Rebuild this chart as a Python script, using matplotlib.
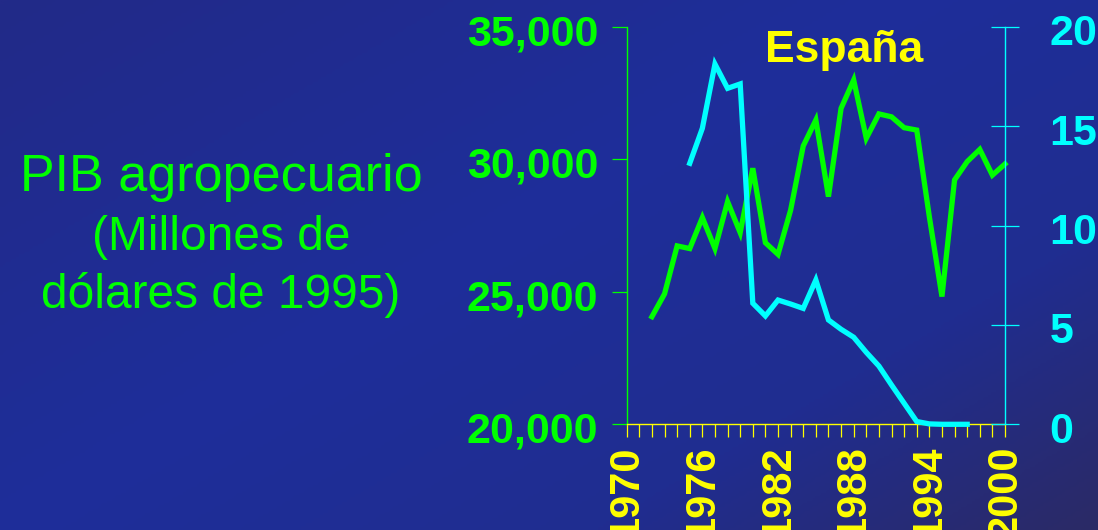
import numpy as np
import matplotlib
matplotlib.use("Agg")
import matplotlib.pyplot as plt
import matplotlib.transforms as mtransforms
from matplotlib.colors import LinearSegmentedColormap

# Agricultural GDP (million 1995 US dollars), left axis
gdp_years = list(range(1972, 2001))
gdp_values = [24060, 24920, 26730, 26630, 27800, 26630, 28400, 27230, 29660,
              26850, 26410, 28080, 30500, 31480, 28590, 31920, 32990, 30790,
              31710, 31600, 31190, 31100, 27830, 24820, 29220, 29910, 30370,
              29400, 29820]

# Second series, right axis
sec_years = list(range(1975, 1998))
sec_values = [13.13, 14.89, 18.12, 16.90, 17.12, 6.09, 5.45, 6.25, 6.05, 5.83,
              7.26, 5.25, 4.78, 4.38, 3.62, 2.93, 1.98, 1.06, 0.14, 0.02, 0.0,
              0.0, 0.0]

year_labels = list(range(1970, 2001, 6))
left_ticks = [20000, 25000, 30000, 35000]
right_ticks = [0, 5, 10, 15, 20]

title = "España"
ylabel_lines = ["PIB agropecuario", "(Millones de", "dólares de 1995)"]

GREEN = "#00ff00"
CYAN = "#00ffff"
YELLOW = "#ffff00"
FONT = "Liberation Sans"

W, H = 1098, 530
fig = plt.figure(figsize=(W / 100, H / 100), dpi=100)

# Diagonal blue background gradient
bg = fig.add_axes([0, 0, 1, 1], zorder=-10)
bg.set_axis_off()
yy, xx = np.mgrid[0:1:200j, 0:1:400j]
t = (xx * 0.55 + yy * 0.45)
cmap = LinearSegmentedColormap.from_list(
    "bg", [(0.0, "#222a88"), (0.45, "#1e2e9a"), (0.75, "#202d90"), (1.0, "#2b2a66")])
bg.imshow(t, cmap=cmap, aspect="auto", extent=[0, 1, 0, 1], origin="upper",
          vmin=0, vmax=1)
bg.set_xlim(0, 1)
bg.set_ylim(0, 1)

x0, x1 = 626.7 / W, 1005 / W
y_top, y_bot = 26.7 / H, 424.3 / H
ax = fig.add_axes([x0, 1 - y_bot, x1 - x0, y_bot - y_top])
ax.set_facecolor("none")
ax2 = ax.twinx()
ax2.set_facecolor("none")

ax.plot(gdp_years, gdp_values, color=GREEN, lw=3.8, solid_joinstyle="miter",
        clip_on=False)
ax2.plot(sec_years, sec_values, color=CYAN, lw=3.8, solid_joinstyle="miter",
         clip_on=False)

ax.set_xlim(1970, 2000)
ax.set_ylim(20000, 35000)
ax2.set_ylim(0, 20)

# Spines
for a in (ax, ax2):
    a.spines["top"].set_visible(False)
ax.spines["right"].set_visible(False)
ax2.spines["left"].set_visible(False)
ax2.spines["bottom"].set_visible(False)
ax.spines["left"].set_color(GREEN)
ax.spines["bottom"].set_color(YELLOW)
ax2.spines["right"].set_color(CYAN)
for s in (ax.spines["left"], ax.spines["bottom"], ax2.spines["right"]):
    s.set_linewidth(1.0)

# X axis ticks
ax.set_xticks(year_labels)
ax.set_xticks(range(1970, 2001), minor=True)
ax.set_xticklabels([str(y) for y in year_labels], rotation=90, va="top",
                   ha="center", color=YELLOW, fontsize=30, fontweight="bold",
                   family=FONT)
ax.tick_params(axis="x", which="both", direction="out", length=9, width=0.9,
               color=YELLOW, pad=6)

# Left axis ticks
ax.set_yticks(left_ticks)
ax.set_yticklabels([f"{v:,}" for v in left_ticks], color=GREEN, fontsize=31,
                   fontweight="bold", family=FONT)
ax.tick_params(axis="y", direction="out", length=10.5, width=0.9, color=GREEN,
               pad=10)

# Right axis ticks
ax2.set_yticks(right_ticks)
ax2.set_yticklabels([str(v) for v in right_ticks], color=CYAN, fontsize=31,
                    fontweight="bold", family=FONT)
ax2.tick_params(axis="y", direction="inout", length=20, width=0.9, color=CYAN,
                pad=22)

# Nudge the y tick labels slightly downward
shift = mtransforms.ScaledTranslation(0, -3 / 100, fig.dpi_scale_trans)
for lbl in ax.get_yticklabels() + ax2.get_yticklabels():
    lbl.set_transform(lbl.get_transform() + shift)

ax.text(0.574, 0.9105, title, transform=ax.transAxes, ha="center",
        va="baseline", color=YELLOW, fontsize=32, fontweight="bold",
        family=FONT)

for line, base, size in zip(ylabel_lines, [191.5, 250, 308], [37.5, 34.5, 34.5]):
    fig.text(221 / W, 1 - base / H, line, ha="center", va="baseline",
             color=GREEN, fontsize=size, family=FONT)

fig.savefig("out.png", dpi=100)
